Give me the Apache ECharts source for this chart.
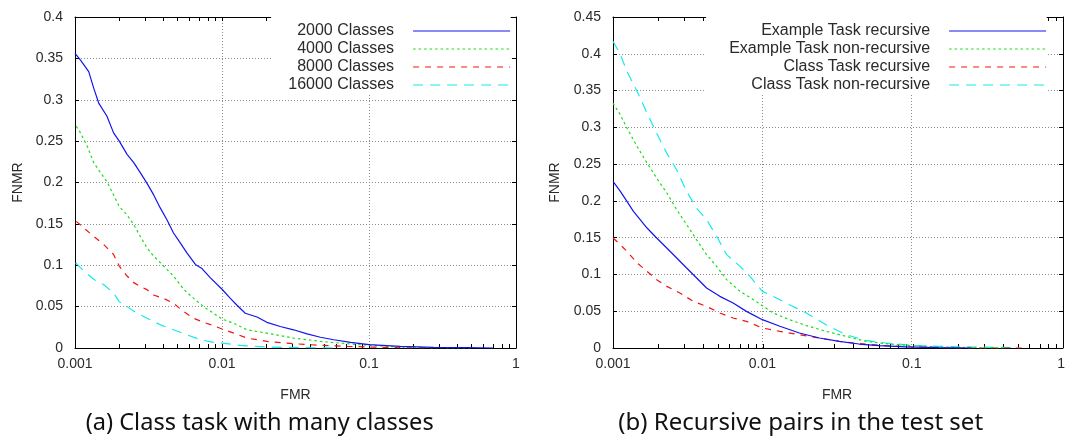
<!DOCTYPE html>
<html>
<head>
<meta charset="utf-8">
<script src="https://cdn.jsdelivr.net/npm/echarts@6/dist/echarts.min.js"></script>
<style>
  html, body { margin: 0; padding: 0; background: #fff; }
  #chart { width: 1068px; height: 439px; }
</style>
</head>
<body>
<div id="chart"></div>
<script>
// ---- (a) Class task with many classes ----
const namesA = ['2000 Classes', '4000 Classes', '8000 Classes', '16000 Classes'];
const fmr2000 = [0.001,0.00109,0.00124,0.00134,0.00145,0.00165,0.00183,0.002,0.00226,0.00251,0.00278,0.00309,0.00343,0.00381,0.00422,0.00468,0.0052,0.00577,0.00659,0.00731,0.00831,0.01,0.0114,0.0126,0.0144,0.0173,0.0202,0.0249,0.0307,0.0379,0.0467,0.0576,0.0749,0.1,0.163,0.275,0.464,0.7];
const fnmr2000 = [0.356,0.348,0.334,0.314,0.296,0.28,0.26,0.25,0.234,0.224,0.212,0.199,0.185,0.169,0.155,0.139,0.127,0.115,0.101,0.096,0.085,0.071,0.06,0.052,0.042,0.0375,0.031,0.026,0.022,0.017,0.013,0.010,0.0068,0.004,0.002,0.0008,0.0004,0];
const fmr4000 = [0.00102,0.00109,0.00121,0.00134,0.00149,0.00165,0.00183,0.002,0.00226,0.00251,0.00278,0.00309,0.00343,0.00381,0.00422,0.00468,0.00548,0.00641,0.00749,0.00876,0.01,0.012,0.0148,0.0202,0.0307,0.0467,0.0708,0.1,0.163,0.275,0.49];
const fnmr4000 = [0.268,0.26,0.244,0.224,0.212,0.201,0.185,0.171,0.161,0.149,0.135,0.121,0.111,0.103,0.095,0.087,0.071,0.060,0.050,0.042,0.035,0.030,0.022,0.018,0.012,0.008,0.0052,0.0032,0.0012,0.0004,0];
const fmr8000 = [0.00102,0.00115,0.00134,0.00157,0.00183,0.002,0.00226,0.00251,0.00278,0.00309,0.00343,0.004,0.00468,0.00548,0.00641,0.00749,0.00876,0.01,0.012,0.0148,0.0202,0.0307,0.0467,0.0708,0.1,0.163,0.275];
const fnmr8000 = [0.153,0.145,0.135,0.125,0.113,0.099,0.087,0.079,0.0745,0.0705,0.064,0.060,0.054,0.044,0.036,0.031,0.027,0.023,0.018,0.012,0.008,0.0052,0.0032,0.002,0.0012,0.0004,0];
const fmr16000 = [0.00101,0.00115,0.00134,0.00157,0.00183,0.002,0.00226,0.00264,0.00309,0.00381,0.00468,0.00577,0.00711,0.00876,0.01,0.0133,0.0202,0.034,0.0576];
const fnmr16000 = [0.103,0.093,0.083,0.0765,0.0665,0.056,0.050,0.042,0.036,0.028,0.022,0.016,0.010,0.0068,0.006,0.0032,0.0012,0.0004,0];

// ---- (b) Recursive pairs in the test set ----
const namesB = ['Example Task recursive', 'Example Task non-recursive', 'Class Task recursive', 'Class Task non-recursive'];
const fmrExRec = [0.001,0.00112,0.00124,0.00137,0.00152,0.00169,0.00196,0.00229,0.00267,0.00311,0.00363,0.00423,0.00519,0.00637,0.00782,0.01,0.0131,0.0177,0.0241,0.0327,0.0444,0.0603,0.0912,0.152,0.25];
const fnmrExRec = [0.2266,0.213,0.1994,0.1858,0.1745,0.1631,0.1495,0.136,0.1224,0.1088,0.0952,0.0816,0.0702,0.0612,0.0498,0.0385,0.0295,0.0204,0.0136,0.0091,0.0054,0.0032,0.0014,0.0005,0];
const fmrExNon = [0.001,0.00112,0.00124,0.00145,0.00169,0.00196,0.00229,0.00267,0.00311,0.00363,0.00423,0.00494,0.00576,0.00709,0.00871,0.01,0.0118,0.0152,0.0197,0.0267,0.0362,0.0492,0.0669,0.1,0.152,0.25,0.42];
const fnmrExNon = [0.333,0.317,0.299,0.274,0.2515,0.231,0.211,0.188,0.168,0.147,0.127,0.111,0.093,0.077,0.0657,0.0576,0.0476,0.0385,0.0304,0.0227,0.0159,0.0091,0.0059,0.0032,0.0014,0.0005,0];
const fmrClRec = [0.001,0.00109,0.00124,0.00145,0.00169,0.00196,0.00229,0.0028,0.00345,0.00423,0.00519,0.00637,0.00782,0.01,0.0131,0.0177,0.0241,0.0327,0.0444,0.0669,0.1,0.195,0.6];
const fnmrClRec = [0.1495,0.1427,0.1314,0.1156,0.1042,0.0929,0.0838,0.0748,0.0634,0.0566,0.0476,0.0408,0.0363,0.0272,0.0227,0.0181,0.0136,0.0091,0.0059,0.0032,0.0014,0,0];
const fmrClNon = [0.001,0.00112,0.00124,0.00145,0.00169,0.00196,0.00229,0.00267,0.00311,0.00363,0.00423,0.00494,0.00576,0.00709,0.00826,0.01,0.0118,0.0152,0.0197,0.0267,0.0362,0.0492,0.0669,0.1,0.152,0.25,0.52];
const fnmrClNon = [0.417,0.399,0.376,0.349,0.3195,0.292,0.265,0.242,0.213,0.190,0.1745,0.152,0.127,0.111,0.0974,0.077,0.0702,0.0589,0.0476,0.0317,0.0181,0.0104,0.0068,0.0036,0.0023,0.0014,0.0005];

// x-axis tick positions (decades plus 2..9 subdivisions)
const logTicks = [0.001,0.002,0.003,0.004,0.005,0.006,0.007,0.008,0.009,
                  0.01,0.02,0.03,0.04,0.05,0.06,0.07,0.08,0.09,
                  0.1,0.2,0.3,0.4,0.5,0.6,0.7,0.8,0.9,1];
const captions = ['(a) Class task with many classes', '(b) Recursive pairs in the test set'];

const FONT = '"Liberation Sans", Arial, Helvetica, sans-serif';
const TXT = '#2a2a2a';
const lineColors = ['#1414f0', '#14e014', '#f01414', '#14eaea'];
const lineDashes = ['solid', [2.5, 3], [6, 6], [10, 7]];

const pairs = (xs, ys) => xs.map((x, i) => [x, ys[i]]);

const chart = echarts.init(document.getElementById('chart'), null, { renderer: 'canvas' });

const gridA = { left: 75, top: 17, width: 441, height: 331 };
const gridB = { left: 613, top: 17, width: 450, height: 331 };

function mainX(gridIndex) {
  return {
    type: 'log', logBase: 10, min: 0.001, max: 1, gridIndex,
    position: 'bottom',
    name: 'FMR', nameLocation: 'middle', nameGap: 40,
    nameTextStyle: { fontFamily: FONT, fontSize: 14, color: TXT },
    axisLine: { show: true, lineStyle: { color: '#000', width: 1 } },
    axisTick: { show: false },
    axisLabel: { fontFamily: FONT, fontSize: 14, color: TXT, margin: 9 },
    splitLine: { show: true, showMinLine: false, showMaxLine: false,
                 lineStyle: { color: '#8c8c8c', type: [1, 2], width: 1 } }
  };
}
// Tick-only log axis carrying the 2..9 subdivisions of every decade.
function tickX(gridIndex, position) {
  return {
    type: 'log', logBase: 10, min: 0.001, max: 1, gridIndex, position,
    axisLine: { show: position === 'top', lineStyle: { color: '#000', width: 1 } },
    axisTick: { show: true, inside: true, length: 4, customValues: logTicks,
                lineStyle: { color: '#000', width: 1 } },
    axisLabel: { show: false },
    splitLine: { show: false }
  };
}
function mainY(gridIndex, max, gap) {
  return {
    type: 'value', min: 0, max, interval: 0.05, gridIndex, position: 'left',
    name: 'FNMR', nameLocation: 'middle', nameGap: gap,
    nameTextStyle: { fontFamily: FONT, fontSize: 14, color: TXT },
    axisLine: { show: true, lineStyle: { color: '#000', width: 1 } },
    axisTick: { show: true, inside: true, length: 4, lineStyle: { color: '#000' } },
    axisLabel: { fontFamily: FONT, fontSize: 14, color: TXT, margin: 12 },
    splitLine: { show: true, showMinLine: false, showMaxLine: false,
                 lineStyle: { color: '#8c8c8c', type: [1, 2], width: 1 } }
  };
}
function mirrorY(gridIndex, max) {
  return {
    type: 'value', min: 0, max, interval: 0.05, gridIndex, position: 'right',
    axisLine: { show: true, lineStyle: { color: '#000', width: 1 } },
    axisTick: { show: true, inside: true, length: 4, lineStyle: { color: '#000' } },
    axisLabel: { show: false },
    splitLine: { show: false }
  };
}

function lineSeries(name, xs, ys, k, xi, yi) {
  return {
    type: 'line', name, data: pairs(xs, ys),
    xAxisIndex: xi, yAxisIndex: yi,
    showSymbol: false, symbol: 'none', animation: false,
    lineStyle: { color: lineColors[k], width: 1.2, type: lineDashes[k] },
    itemStyle: { color: lineColors[k] },
    z: 3 + (3 - k)
  };
}

function legendFor(names, right, textWidth) {
  return {
    data: names, orient: 'vertical', align: 'right',
    right, top: 17, padding: [6, 0, 1, 0],
    itemWidth: 97, itemHeight: 16, itemGap: 2,
    backgroundColor: '#fff', selectedMode: false,
    itemStyle: { opacity: 0 },
    lineStyle: { width: 1.2 },
    textStyle: { fontFamily: FONT, fontSize: 16, color: TXT, lineHeight: 16,
                 width: textWidth, padding: [0, 14, 0, 0] }
  };
}

const CAPTION_FONT = '"Noto Sans", "Open Sans", sans-serif';

const option = {
  backgroundColor: '#fff',
  animation: false,
  grid: [
    Object.assign({}, gridA), Object.assign({}, gridA),
    Object.assign({}, gridB), Object.assign({}, gridB)
  ],
  xAxis: [
    mainX(0), tickX(1, 'bottom'), tickX(1, 'top'),
    mainX(2), tickX(3, 'bottom'), tickX(3, 'top')
  ],
  yAxis: [
    mainY(0, 0.4, 50), mirrorY(1, 0.4),
    mainY(2, 0.45, 51), mirrorY(3, 0.45)
  ],
  legend: [
    legendFor(namesA, 557.3, 123),
    legendFor(namesB, 21.3, 224)
  ],
  series: [
    lineSeries(namesA[0], fmr2000, fnmr2000, 0, 0, 0),
    lineSeries(namesA[1], fmr4000, fnmr4000, 1, 0, 0),
    lineSeries(namesA[2], fmr8000, fnmr8000, 2, 0, 0),
    lineSeries(namesA[3], fmr16000, fnmr16000, 3, 0, 0),
    lineSeries(namesB[0], fmrExRec, fnmrExRec, 0, 3, 2),
    lineSeries(namesB[1], fmrExNon, fnmrExNon, 1, 3, 2),
    lineSeries(namesB[2], fmrClRec, fnmrClRec, 2, 3, 2),
    lineSeries(namesB[3], fmrClNon, fnmrClNon, 3, 3, 2)
  ],
  graphic: [
    { type: 'text', x: 259.7, y: 423,
      style: { text: captions[0], fontFamily: CAPTION_FONT, fontSize: 23.6,
               fill: '#111', align: 'center', verticalAlign: 'middle' } },
    { type: 'text', x: 800.7, y: 423,
      style: { text: captions[1], fontFamily: CAPTION_FONT, fontSize: 24,
               fill: '#111', align: 'center', verticalAlign: 'middle' } }
  ]
};

chart.setOption(option);
</script>
</body>
</html>
